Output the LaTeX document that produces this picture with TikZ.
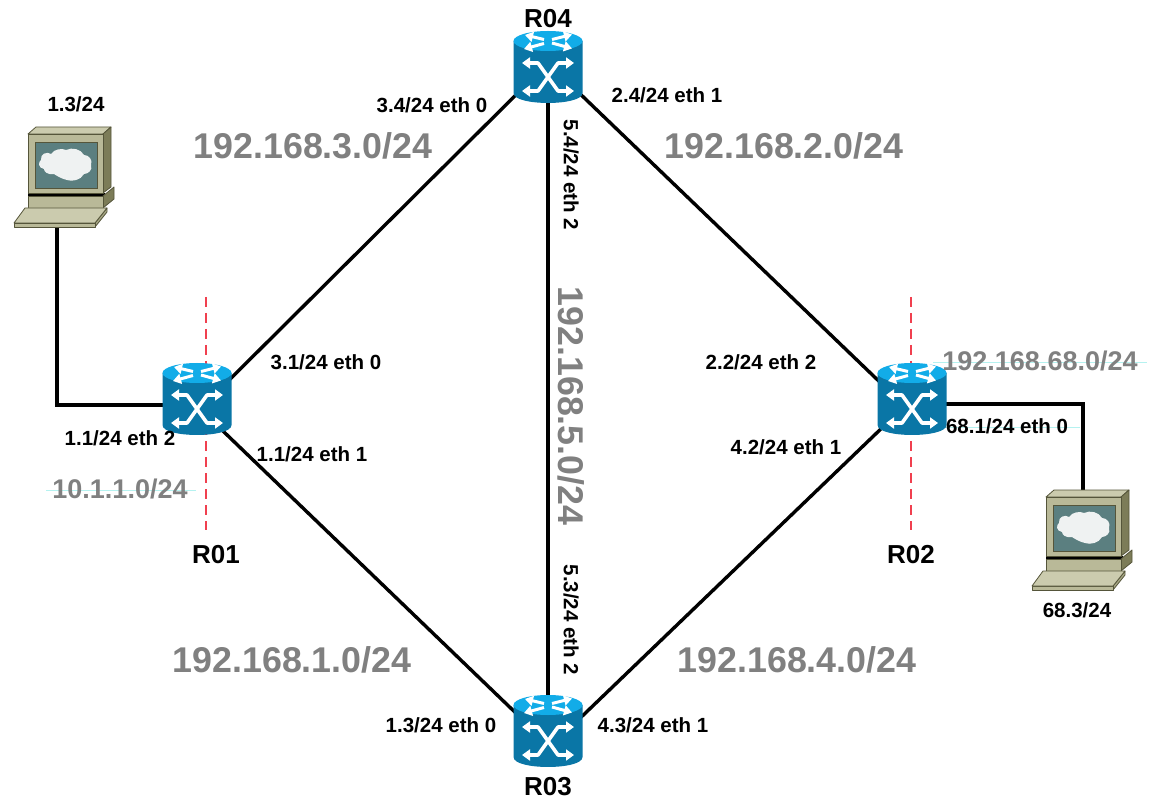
\documentclass[tikz,border=0pt]{standalone}
\usepackage{fontspec}
\setmainfont{Liberation Sans}
\usetikzlibrary{arrows.meta}
\definecolor{rbody}{HTML}{0A76A6}
\definecolor{rtop}{HTML}{12ACE8}
\definecolor{pcface}{HTML}{B9B998}
\definecolor{pctop}{HTML}{CBCBAE}
\definecolor{pcside}{HTML}{7C7C58}
\definecolor{pcedge}{HTML}{55553A}
\definecolor{pcscreen}{HTML}{5B7F80}
\definecolor{netgray}{HTML}{808080}
\definecolor{cyanline}{HTML}{B5F2F0}
\definecolor{guidered}{HTML}{F0404F}
\tikzset{
  x=1pt,y=-1pt,
  link/.style={line width=3.4pt,draw=black},
  guide/.style={draw=guidered,line width=1.2pt,dash pattern=on 10pt off 6pt},
  cyanrule/.style={draw=cyanline,line width=1pt},
  lab/.style={font=\bfseries\fontsize{20.5}{22}\selectfont,text=black,inner sep=0pt},
  rname/.style={font=\bfseries\fontsize{26}{28}\selectfont,text=black,inner sep=0pt},
  net/.style={font=\bfseries\fontsize{35.8}{38}\selectfont,text=netgray,inner sep=0pt},
  netsmall/.style={font=\bfseries\fontsize{27}{29}\selectfont,text=netgray,inner sep=0pt},
  anchorbox/.style={inner sep=0pt,minimum width=70pt,minimum height=72pt},
  rsmall/.style={draw=white,line width=3pt,-{Triangle[length=8pt,width=10pt]}},
  pcline/.style={draw=pcedge,line width=.8pt,line join=round},
  pics/router/.style={code={
    \fill[rbody] (-34.5,-26) -- (-34.5,26) .. controls (-34.5,39.3) and (34.5,39.3) .. (34.5,26) -- (34.5,-26) -- cycle;
    \fill[rtop] (0,-26) ellipse[x radius=34.5,y radius=10];
    \draw[rsmall] (-4,-27.5) -- (-23,-32);
    \draw[rsmall] (4,-27.5) -- (24,-32.5);
    \draw[rsmall] (-4,-23.5) -- (-24,-18);
    \draw[rsmall] (4,-24) -- (24,-18.5);
    \draw[white,line width=3.6pt,line join=round,{Triangle[length=8pt,width=11pt]}-{Triangle[length=8pt,width=11pt]}] (-26,-4) -- (-10,-4) -- (10,24) -- (26,24);
    \draw[white,line width=3.6pt,line join=round,{Triangle[length=8pt,width=11pt]}-{Triangle[length=8pt,width=11pt]}] (-26,24) -- (-10,24) -- (10,-4) -- (26,-4);
  }},
  pics/pc/.style={code={
    \filldraw[pcline,fill=pctop] (28,134) -- (36,127) -- (111,127) -- (103,134) -- cycle;
    \filldraw[pcline,fill=pcside] (103,134) -- (111,127) -- (111,187) -- (103,193) -- cycle;
    \fill[black] (28,193) rectangle (105,197);
    \filldraw[pcline,fill=pcside] (103,196) -- (114,187) -- (114,199) -- (103,208) -- cycle;
    \filldraw[pcline,fill=pcface] (28,196) rectangle (103,208);
    \filldraw[pcline,fill=pcface] (28,134) rectangle (103,193);
    \filldraw[draw=pcedge,line width=.8pt,fill=pcscreen] (35,142) rectangle (97,188);
    \fill[white!90!pcscreen] (41,160) .. controls (40,154) and (47,151) .. (51,154)
       .. controls (54,149) and (62,148) .. (66,150)
       .. controls (72,147) and (81,149) .. (84,155)
       .. controls (89,155) and (93,160) .. (91,165)
       .. controls (93,170) and (88,174) .. (84,174)
       .. controls (81,180) and (72,182) .. (67,180)
       .. controls (62,179) and (57,176) .. (54,174)
       .. controls (48,175) and (44,172) .. (44,169)
       .. controls (38,168) and (38,162) .. (41,160) -- cycle;
    \filldraw[pcline,fill=pcface!70!pcside] (95,223) -- (107,208) -- (107,212) -- (95,227) -- cycle;
    \filldraw[pcline,fill=pcface] (14,223) rectangle (95,227);
    \filldraw[pcline,fill=pctop] (14,223) -- (25,208) -- (107,208) -- (95,223) -- cycle;
  }}
}
\begin{document}
\begin{tikzpicture}
\useasboundingbox (0,0) rectangle (1151,799);
\fill[white] (0,0) rectangle (1151,799);
\node[anchorbox] (r1) at (197,399) {};
\node[anchorbox] (r2) at (912,399) {};
\node[anchorbox] (r3) at (548,731) {};
\node[anchorbox] (r4) at (548,67) {};
\coordinate (pc1) at (57,222);
\coordinate (pc2) at (1083,492);
\coordinate (g1a) at (206,297); \coordinate (g1b) at (206,530);
\coordinate (g2a) at (911,297); \coordinate (g2b) at (911,530);
\coordinate (c1a) at (46,490); \coordinate (c1b) at (196,490);
\coordinate (c2a) at (933,363); \coordinate (c2b) at (1147,363);
\coordinate (c3a) at (945,427); \coordinate (c3b) at (1080,427);
\draw[guide] (g1a) -- (g1b);
\draw[guide] (g2a) -- (g2b);
\draw[cyanrule] (c1a) -- (c1b);
\draw[cyanrule] (c2a) -- (c2b);
\draw[cyanrule] (c3a) -- (c3b);
\draw[link] ([yshift=-13pt]r1.center) -- ([yshift=4pt]r4.center);
\draw[link] ([yshift=-7pt]r1.center) -- ([yshift=-13pt]r3.center);
\draw[link] ([yshift=4pt]r4.center) -- ([yshift=-14pt]r2.center);
\draw[link] ([yshift=-18pt]r3.center) -- (r2.center);
\draw[link] (r4.center) -- (r3.center);
\draw[link,line join=miter] (pc1) |- ([yshift=-6pt]r1.center);
\draw[link,line join=miter] ([yshift=-5pt]r2.center) -| (pc2);
\pic at (r1.center) {router};
\pic at (r2.center) {router};
\pic at (r3.center) {router};
\pic at (r4.center) {router};
\pic at (0,0) {pc};
\pic at (1018,363) {pc};
\node[rname] (n4) at (548,19) {R04};
\node[rname] (n1) at (216,555) {R01};
\node[rname] (n2) at (911,555) {R02};
\node[rname] (n3) at (548,787) {R03};
\node[lab] (l1) at (76,104) {1.3/24};
\node[lab] (l2) at (1077,610) {68.3/24};
\node[lab] (l3) at (432,105) {3.4/24 eth 0};
\node[lab] (l4) at (667,95) {2.4/24 eth 1};
\node[lab,rotate=-90] (l5) at (571,175) {5.4/24 eth 2};
\node[lab,rotate=-90] (l6) at (571,620) {5.3/24 eth 2};
\node[lab] (l7) at (326,362) {3.1/24 eth 0};
\node[lab] (l8) at (312,454) {1.1/24 eth 1};
\node[lab] (l9) at (120,438) {1.1/24 eth 2};
\node[lab] (l10) at (761,362) {2.2/24 eth 2};
\node[lab] (l11) at (786,447) {4.2/24 eth 1};
\node[lab] (l12) at (1007,426) {68.1/24 eth 0};
\node[lab] (l13) at (441,725) {1.3/24 eth 0};
\node[lab] (l14) at (653,725) {4.3/24 eth 1};
\node[net] (s1) at (313,146) {192.168.3.0/24};
\node[net] (s2) at (784,146) {192.168.2.0/24};
\node[net] (s3) at (292,660) {192.168.1.0/24};
\node[net] (s4) at (797,660) {192.168.4.0/24};
\node[net,rotate=-90] (s5) at (571,406) {192.168.5.0/24};
\node[netsmall] (s6) at (120,489) {10.1.1.0/24};
\node[netsmall] (s7) at (1040,361) {192.168.68.0/24};
\end{tikzpicture}
\end{document}
